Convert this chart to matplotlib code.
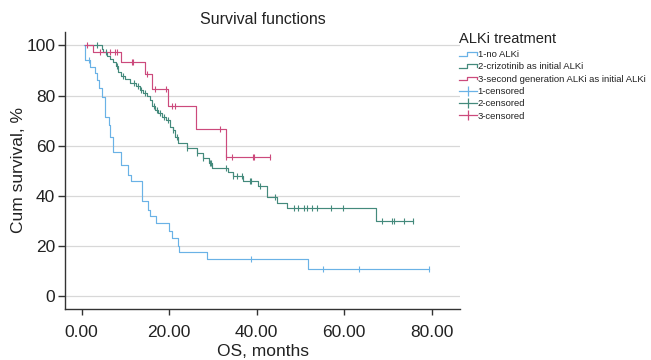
import numpy as np
import matplotlib
matplotlib.use("Agg")
import matplotlib.pyplot as plt
from matplotlib.lines import Line2D
from matplotlib.legend_handler import HandlerBase

plt.rcParams['font.family'] = ['Liberation Sans', 'DejaVu Sans']

# step curves: event times (months) and cumulative survival (%) after each step
blue_t = [0.6, 0.75, 1.9, 3.0, 3.6, 4.0, 4.6, 5.3, 6.3, 6.6, 7.2, 9.1, 10.7, 11.2,
          13.7, 15.2, 15.6, 17.0, 20.0, 20.7, 22.1, 22.3, 28.7, 51.8]
blue_s = [100, 94.3, 91.4, 88.9, 86.0, 83.0, 79.5, 71.5, 68.2, 63.5, 57.6, 52.4, 48.4, 46.0,
          37.8, 34.5, 31.9, 29.2, 25.9, 23.3, 20.0, 17.6, 15.0, 11.0]
blue_cens = [1.6, 38.6, 55.1, 63.4, 79.5]

green_t = [1.3, 4.6, 5.0, 5.8, 6.5, 7.2, 7.8, 8.4, 9.1, 9.9, 11.0, 12.4, 13.3, 14.1, 15.0,
           15.6, 16.2, 16.8, 17.5, 18.3, 19.4, 20.2, 20.8, 21.3, 22.1, 24.0, 26.3, 27.8,
           29.2, 29.7, 33.5, 34.7, 36.9, 40.4, 42.3, 44.7, 47.0, 67.3]
green_s = [100, 98.6, 97.3, 95.9, 94.6, 93.2, 91.9, 89.2, 87.8, 86.5, 85.1, 83.8, 82.4, 81.1,
           79.7, 78.4, 75.7, 74.3, 72.9, 71.6, 70.2, 67.6, 66.3, 63.6, 61.0, 59.0, 57.0,
           55.0, 53.0, 51.1, 49.7, 48.0, 46.0, 44.0, 39.4, 37.2, 35.0, 29.9]
green_cens = [3.5, 5.5, 8.0, 9.5, 12.0, 12.8, 13.6, 14.5, 16.5, 17.2, 18.0, 18.8, 19.8,
              21.0, 21.8, 24.0, 26.3, 27.8, 29.3, 29.6, 33.1, 34.7, 35.4, 36.6, 38.5,
              38.6, 40.8, 44.2, 48.5, 49.5, 50.8, 51.6, 52.6, 53.7, 57.0, 59.7, 68.6,
              70.9, 71.4, 73.7, 75.8]

red_t = [0.75, 2.7, 9.1, 14.6, 16.2, 19.7, 26.1, 32.9]
red_s = [100, 97.3, 93.4, 88.4, 82.8, 75.8, 66.5, 55.4]
red_cens = [1.3, 4.2, 6.5, 7.6, 8.1, 11.6, 11.8, 15.0, 16.8, 19.4, 20.6, 21.3,
            31.7, 33.0, 34.4, 39.1, 39.4, 43.0]

labels = ['1-no ALKi', '2-crizotinib as initial ALKi',
          '3-second generation ALKi as initial ALKi',
          '1-censored', '2-censored', '3-censored']
colors = ['#6ab2e6', '#448a7c', '#cc4a7c']

yticks = [0, 20, 40, 60, 80, 100]
xticks = [0, 20, 40, 60, 80]


class StepHandler(HandlerBase):
    def __init__(self, color):
        super().__init__()
        self.color = color

    def create_artists(self, legend, orig_handle, xd, yd, w, h, fontsize, trans):
        xs = [-xd, -xd + 0.45 * w, -xd + 0.45 * w, -xd + w, -xd + w]
        ys = [-yd + 0.2 * h, -yd + 0.2 * h, -yd + 0.75 * h, -yd + 0.75 * h, -yd + 0.35 * h]
        ln = Line2D(xs, ys, color=self.color, lw=0.9, transform=trans)
        return [ln]


def surv_at(t, s, x):
    i = np.searchsorted(t, x, side='right') - 1
    return np.array(s)[i]


fig = plt.figure(figsize=(6.51, 3.6), dpi=100)
ax = fig.add_axes([0.0998, 0.142, 0.607, 0.769])

curves = [(blue_t, blue_s, blue_cens), (green_t, green_s, green_cens), (red_t, red_s, red_cens)]
handles = []
for (t, s, c), col in zip(curves, colors):
    tt = list(t) + [max(c)]
    ss = list(s) + [s[-1]]
    h, = ax.step(tt, ss, where='post', color=col, lw=0.85, zorder=3)
    handles.append(h)
for (t, s, c), col in zip(curves, colors):
    ax.plot(c, surv_at(t, s, c), ls='none', marker='|', ms=5, mew=0.8, color=col, zorder=4)

ax.set_xlim(-3.8, 86.5)
ax.set_ylim(-5, 105.3)
ax.set_xticks(xticks)
ax.set_xticklabels(['%.2f' % v for v in xticks])
ax.set_yticks(yticks)
ax.grid(axis='y', color='#d8d8d8', lw=0.9)
ax.set_axisbelow(True)
for sp in ['top', 'right']:
    ax.spines[sp].set_visible(False)
for sp in ['left', 'bottom']:
    ax.spines[sp].set_color('#333333')
    ax.spines[sp].set_linewidth(1.0)
ax.tick_params(labelsize=12.5, length=5, width=1, color='#333333', labelcolor='#222222', pad=2)
ax.tick_params(axis='x', length=4.5, pad=7)
ax.set_xlabel('OS, months', fontsize=12.5, labelpad=3, color='#222222')
ax.set_ylabel('Cum survival, %', fontsize=12.5, labelpad=0, color='#222222')
ax.set_title('Survival functions', fontsize=11.5, pad=6, color='#222222')

cens_handles = [Line2D([], [], color=col, lw=0.9, marker='|', ms=7, mew=0.9) for col in colors]
leg = fig.legend(handles + cens_handles, labels, loc='upper left',
                 bbox_to_anchor=(0.699, 0.922), frameon=False, fontsize=6.8,
                 title='ALKi treatment', title_fontsize=10.5, alignment='left',
                 handlelength=1.9, handletextpad=0.1, labelspacing=0.35,
                 borderaxespad=0, numpoints=1,
                 handler_map={handles[i]: StepHandler(colors[i]) for i in range(3)})
leg._legend_box.sep = 3
for txt in leg.get_texts():
    txt.set_color('#222222')
leg.get_title().set_color('#222222')

fig.savefig('out.png', dpi=100)
